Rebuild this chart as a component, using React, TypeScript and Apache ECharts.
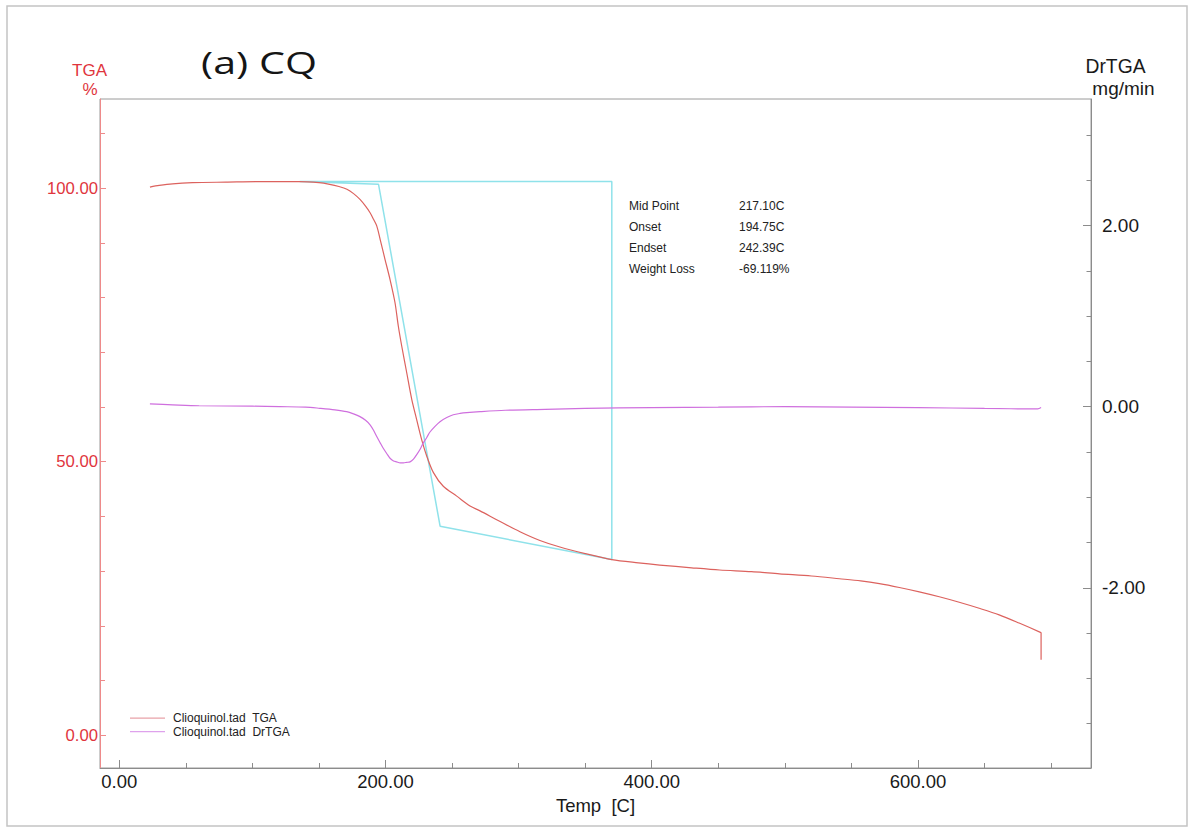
import React, { useEffect, useRef } from "react";
import * as echarts from "echarts";

// ---- Data ----
const tgaTemp = [23, 30, 40, 55, 80, 110, 135, 150, 158, 165, 171, 176, 181, 185, 188.4, 191, 193.4, 196, 199.6, 203.4, 207.1, 209.6, 212.2, 215.9, 219.7, 223.4, 227.2, 231, 236, 243.4, 253.5, 263.5, 271, 285, 301, 316, 331, 350, 370, 390, 406, 430, 451, 475, 496, 520, 541, 557, 571, 586, 601, 616, 631, 646, 661, 676, 692, 692.5, 692.5];
const tgaPct = [100.2, 100.5, 100.8, 101.0, 101.1, 101.2, 101.2, 101.0, 100.7, 100.3, 99.8, 99.0, 97.9, 96.7, 95.5, 94.3, 93.1, 90.6, 87.0, 83.3, 79.1, 74.8, 71.1, 66.3, 61.4, 57.7, 54.0, 51.0, 48.0, 45.5, 43.7, 41.9, 41.0, 39.2, 37.2, 35.6, 34.4, 33.2, 32.1, 31.5, 31.1, 30.6, 30.2, 29.9, 29.5, 29.1, 28.6, 28.2, 27.7, 27.0, 26.2, 25.3, 24.3, 23.2, 22.0, 20.5, 18.8, 18.7, 13.8];

const drTemp = [23, 40, 60, 100, 120.6, 140, 150.6, 162, 170.8, 176, 180.8, 185, 188.4, 191, 193.4, 196, 198.3, 201, 203.4, 206, 208.4, 211, 213.4, 216, 218.4, 221, 223.4, 226, 228.4, 231, 233.4, 237, 240.9, 246, 250.9, 256, 261, 271, 290, 320, 350, 400, 450, 500, 550, 600, 650, 690, 692.5];
const drVal = [0.03, 0.02, 0.01, 0.005, 0.0, -0.005, -0.018, -0.035, -0.055, -0.08, -0.11, -0.15, -0.2, -0.26, -0.33, -0.4, -0.46, -0.52, -0.57, -0.6, -0.61, -0.62, -0.62, -0.615, -0.61, -0.58, -0.53, -0.47, -0.4, -0.34, -0.28, -0.22, -0.166, -0.12, -0.09, -0.075, -0.066, -0.055, -0.04, -0.03, -0.02, -0.01, -0.005, 0.0, -0.005, -0.01, -0.02, -0.025, -0.01];

// analysis construction (onset / endset box)
const boxTemp = [135.6, 194.75, 241, 370, 370, 135.6];
const boxPct = [101.2, 100.7, 38.2, 32.1, 101.2, 101.2];

const xMajor = [0, 200, 400, 600];
const xMinor = [50, 100, 150, 250, 300, 350, 450, 500, 550, 650, 700];
const yLeftMajor = [0, 50, 100];
const yLeftMinor = [10, 20, 30, 40, 60, 70, 80, 90, 110];
const yRightMajor = [-2, 0, 2];
const yRightMinor = [-3.5, -3, -2.5, -1.5, -1, -0.5, 0.5, 1, 1.5, 2.5, 3];

const annotationLabels = ["Mid Point", "Onset", "Endset", "Weight Loss"];
const annotationValues = ["217.10C", "194.75C", "242.39C", "-69.119%"];

const seriesNames = ["Clioquinol.tad  TGA", "Clioquinol.tad  DrTGA"];

const X_MIN = -14.5, X_MAX = 730;
const YL_MIN = -6, YL_MAX = 116.3;
const YR_MIN = -3.99, YR_MAX = 3.397;

const RED = "#e0353d";
const GRAY = "#8c8c8c";
const FONT = "'Liberation Sans', Arial, sans-serif";

export default function App() {
  const ref = useRef<HTMLDivElement>(null);
  useEffect(() => {
    if (!ref.current) return;
    const chart = echarts.init(ref.current, null, { renderer: "svg" });
    const fmt = (v: number) => Number(v).toFixed(2);
    const annoGraphics: any[] = [];
    annotationLabels.forEach((t, i) => {
      const y = 206 + i * 21;
      annoGraphics.push({
        type: "text", x: 629, y,
        style: { text: t, fontSize: 12, fontFamily: FONT, fill: "#222", align: "left", verticalAlign: "middle", textAlign: "left", textVerticalAlign: "middle" },
      });
      annoGraphics.push({
        type: "text", x: 739, y,
        style: { text: annotationValues[i], fontSize: 12, fontFamily: FONT, fill: "#222", align: "left", verticalAlign: "middle", textAlign: "left", textVerticalAlign: "middle" },
      });
    });

    const option: any = {
      animation: false,
      backgroundColor: "#ffffff",
      grid: { left: 100, right: 103, top: 99, bottom: 64, show: true, borderColor: "#9a9a9a", borderWidth: 1, backgroundColor: "transparent" },
      legend: {
        orient: "vertical", left: 125, top: 707, itemWidth: 35, itemHeight: 1.2, icon: "rect", itemGap: 1,
        textStyle: { fontSize: 12, fontFamily: FONT, color: "#222", lineHeight: 12.4, padding: [0, 0, 0, 3] },
        data: [
          { name: seriesNames[0], itemStyle: { color: "#e8a2a8" } },
          { name: seriesNames[1], itemStyle: { color: "#dea2ec" } },
        ],
      },
      xAxis: [
        {
          type: "value", min: X_MIN, max: X_MAX, position: "bottom",
          name: "Temp  [C]", nameLocation: "middle", nameGap: 18,
          nameTextStyle: { fontSize: 18.5, fontFamily: FONT, color: "#1a1a1a" },
          axisLine: { show: true, onZero: false, lineStyle: { color: GRAY, width: 1 } },
          axisTick: { show: true, inside: true, length: 8, customValues: xMajor, lineStyle: { color: GRAY } },
          axisLabel: { show: true, customValues: xMajor, formatter: fmt, fontSize: 18.5, fontFamily: FONT, color: "#1a1a1a", margin: 4 },
          splitLine: { show: false },
        },
        {
          type: "value", min: X_MIN, max: X_MAX, position: "bottom", offset: 0,
          axisLine: { show: false, onZero: false },
          axisTick: { show: true, inside: true, length: 5, customValues: xMinor, lineStyle: { color: GRAY } },
          axisLabel: { show: false },
          splitLine: { show: false },
        },
      ],
      yAxis: [
        {
          type: "value", min: YL_MIN, max: YL_MAX, position: "left",
          axisLine: { show: true, onZero: false, lineStyle: { color: "#ee8a8a", width: 1 } },
          axisTick: { show: true, inside: true, length: 6, customValues: yLeftMajor, lineStyle: { color: "#ee8a8a" } },
          axisLabel: { show: true, customValues: yLeftMajor, formatter: fmt, fontSize: 16.7, fontFamily: FONT, color: RED, margin: 2 },
          splitLine: { show: false },
        },
        {
          type: "value", min: YL_MIN, max: YL_MAX, position: "left", offset: 0,
          axisLine: { show: false, onZero: false },
          axisTick: { show: true, inside: true, length: 5, customValues: yLeftMinor, lineStyle: { color: "#ee8a8a" } },
          axisLabel: { show: false },
          splitLine: { show: false },
        },
        {
          type: "value", min: YR_MIN, max: YR_MAX, position: "right",
          axisLine: { show: true, onZero: false, lineStyle: { color: GRAY, width: 1 } },
          axisTick: { show: true, inside: true, length: 8, customValues: yRightMajor, lineStyle: { color: GRAY } },
          axisLabel: { show: true, customValues: yRightMajor, formatter: fmt, fontSize: 19, fontFamily: FONT, color: "#1a1a1a", margin: 11 },
          splitLine: { show: false },
        },
        {
          type: "value", min: YR_MIN, max: YR_MAX, position: "right", offset: 0,
          axisLine: { show: false, onZero: false },
          axisTick: { show: true, inside: true, length: 4.5, customValues: yRightMinor, lineStyle: { color: GRAY } },
          axisLabel: { show: false },
          splitLine: { show: false },
        },
      ],
      series: [
        {
          name: "Analysis", type: "line", xAxisIndex: 0, yAxisIndex: 0,
          data: boxTemp.map((t, i) => [t, boxPct[i]]),
          showSymbol: false, symbol: "none", silent: true,
          lineStyle: { color: "#8fe2ea", width: 1.5 }, itemStyle: { color: "#8fe2ea" },
        },
        {
          name: seriesNames[0], type: "line", xAxisIndex: 0, yAxisIndex: 0,
          data: tgaTemp.map((t, i) => [t, tgaPct[i]]),
          showSymbol: false, symbol: "none", smooth: 0.3,
          lineStyle: { color: "#dc625e", width: 1.2 }, itemStyle: { color: "#dc625e" },
        },
        {
          name: seriesNames[1], type: "line", xAxisIndex: 0, yAxisIndex: 2,
          data: drTemp.map((t, i) => [t, drVal[i]]),
          showSymbol: false, symbol: "none", smooth: 0.3,
          lineStyle: { color: "#cf6fde", width: 1.2 }, itemStyle: { color: "#cf6fde" },
        },
      ],
      graphic: [
        { type: "rect", shape: { x: 7, y: 6, width: 1180, height: 820 }, style: { fill: "none", stroke: "#c4c4c4", lineWidth: 1.5 }, silent: true },
        {
          type: "text", x: 201, y: 62, scaleX: 1.33, scaleY: 1,
          style: { text: "(a) CQ", fontSize: 31, fontFamily: "'Open Sans', 'Noto Sans', sans-serif", fill: "#151515", align: "left", verticalAlign: "middle", textAlign: "left", textVerticalAlign: "middle" },
        },
        { type: "text", x: 89.5, y: 70, style: { text: "TGA", fontSize: 17, fontFamily: FONT, fill: RED, align: "center", verticalAlign: "middle", textAlign: "center", textVerticalAlign: "middle" } },
        { type: "text", x: 90, y: 89, style: { text: "%", fontSize: 17, fontFamily: FONT, fill: RED, align: "center", verticalAlign: "middle", textAlign: "center", textVerticalAlign: "middle" } },
        { type: "text", x: 1115.5, y: 66, style: { text: "DrTGA", fontSize: 19.3, fontFamily: FONT, fill: "#1a1a1a", align: "center", verticalAlign: "middle", textAlign: "center", textVerticalAlign: "middle" } },
        { type: "text", x: 1123.5, y: 88, style: { text: "mg/min", fontSize: 19, fontFamily: FONT, fill: "#1a1a1a", align: "center", verticalAlign: "middle", textAlign: "center", textVerticalAlign: "middle" } },
        ...annoGraphics,
      ],
    };
    chart.setOption(option);
    return () => chart.dispose();
  }, []);
  return <div ref={ref} style={{ position: "fixed", left: 0, top: 0, width: 1194, height: 832, background: "#fff" }} />;
}
